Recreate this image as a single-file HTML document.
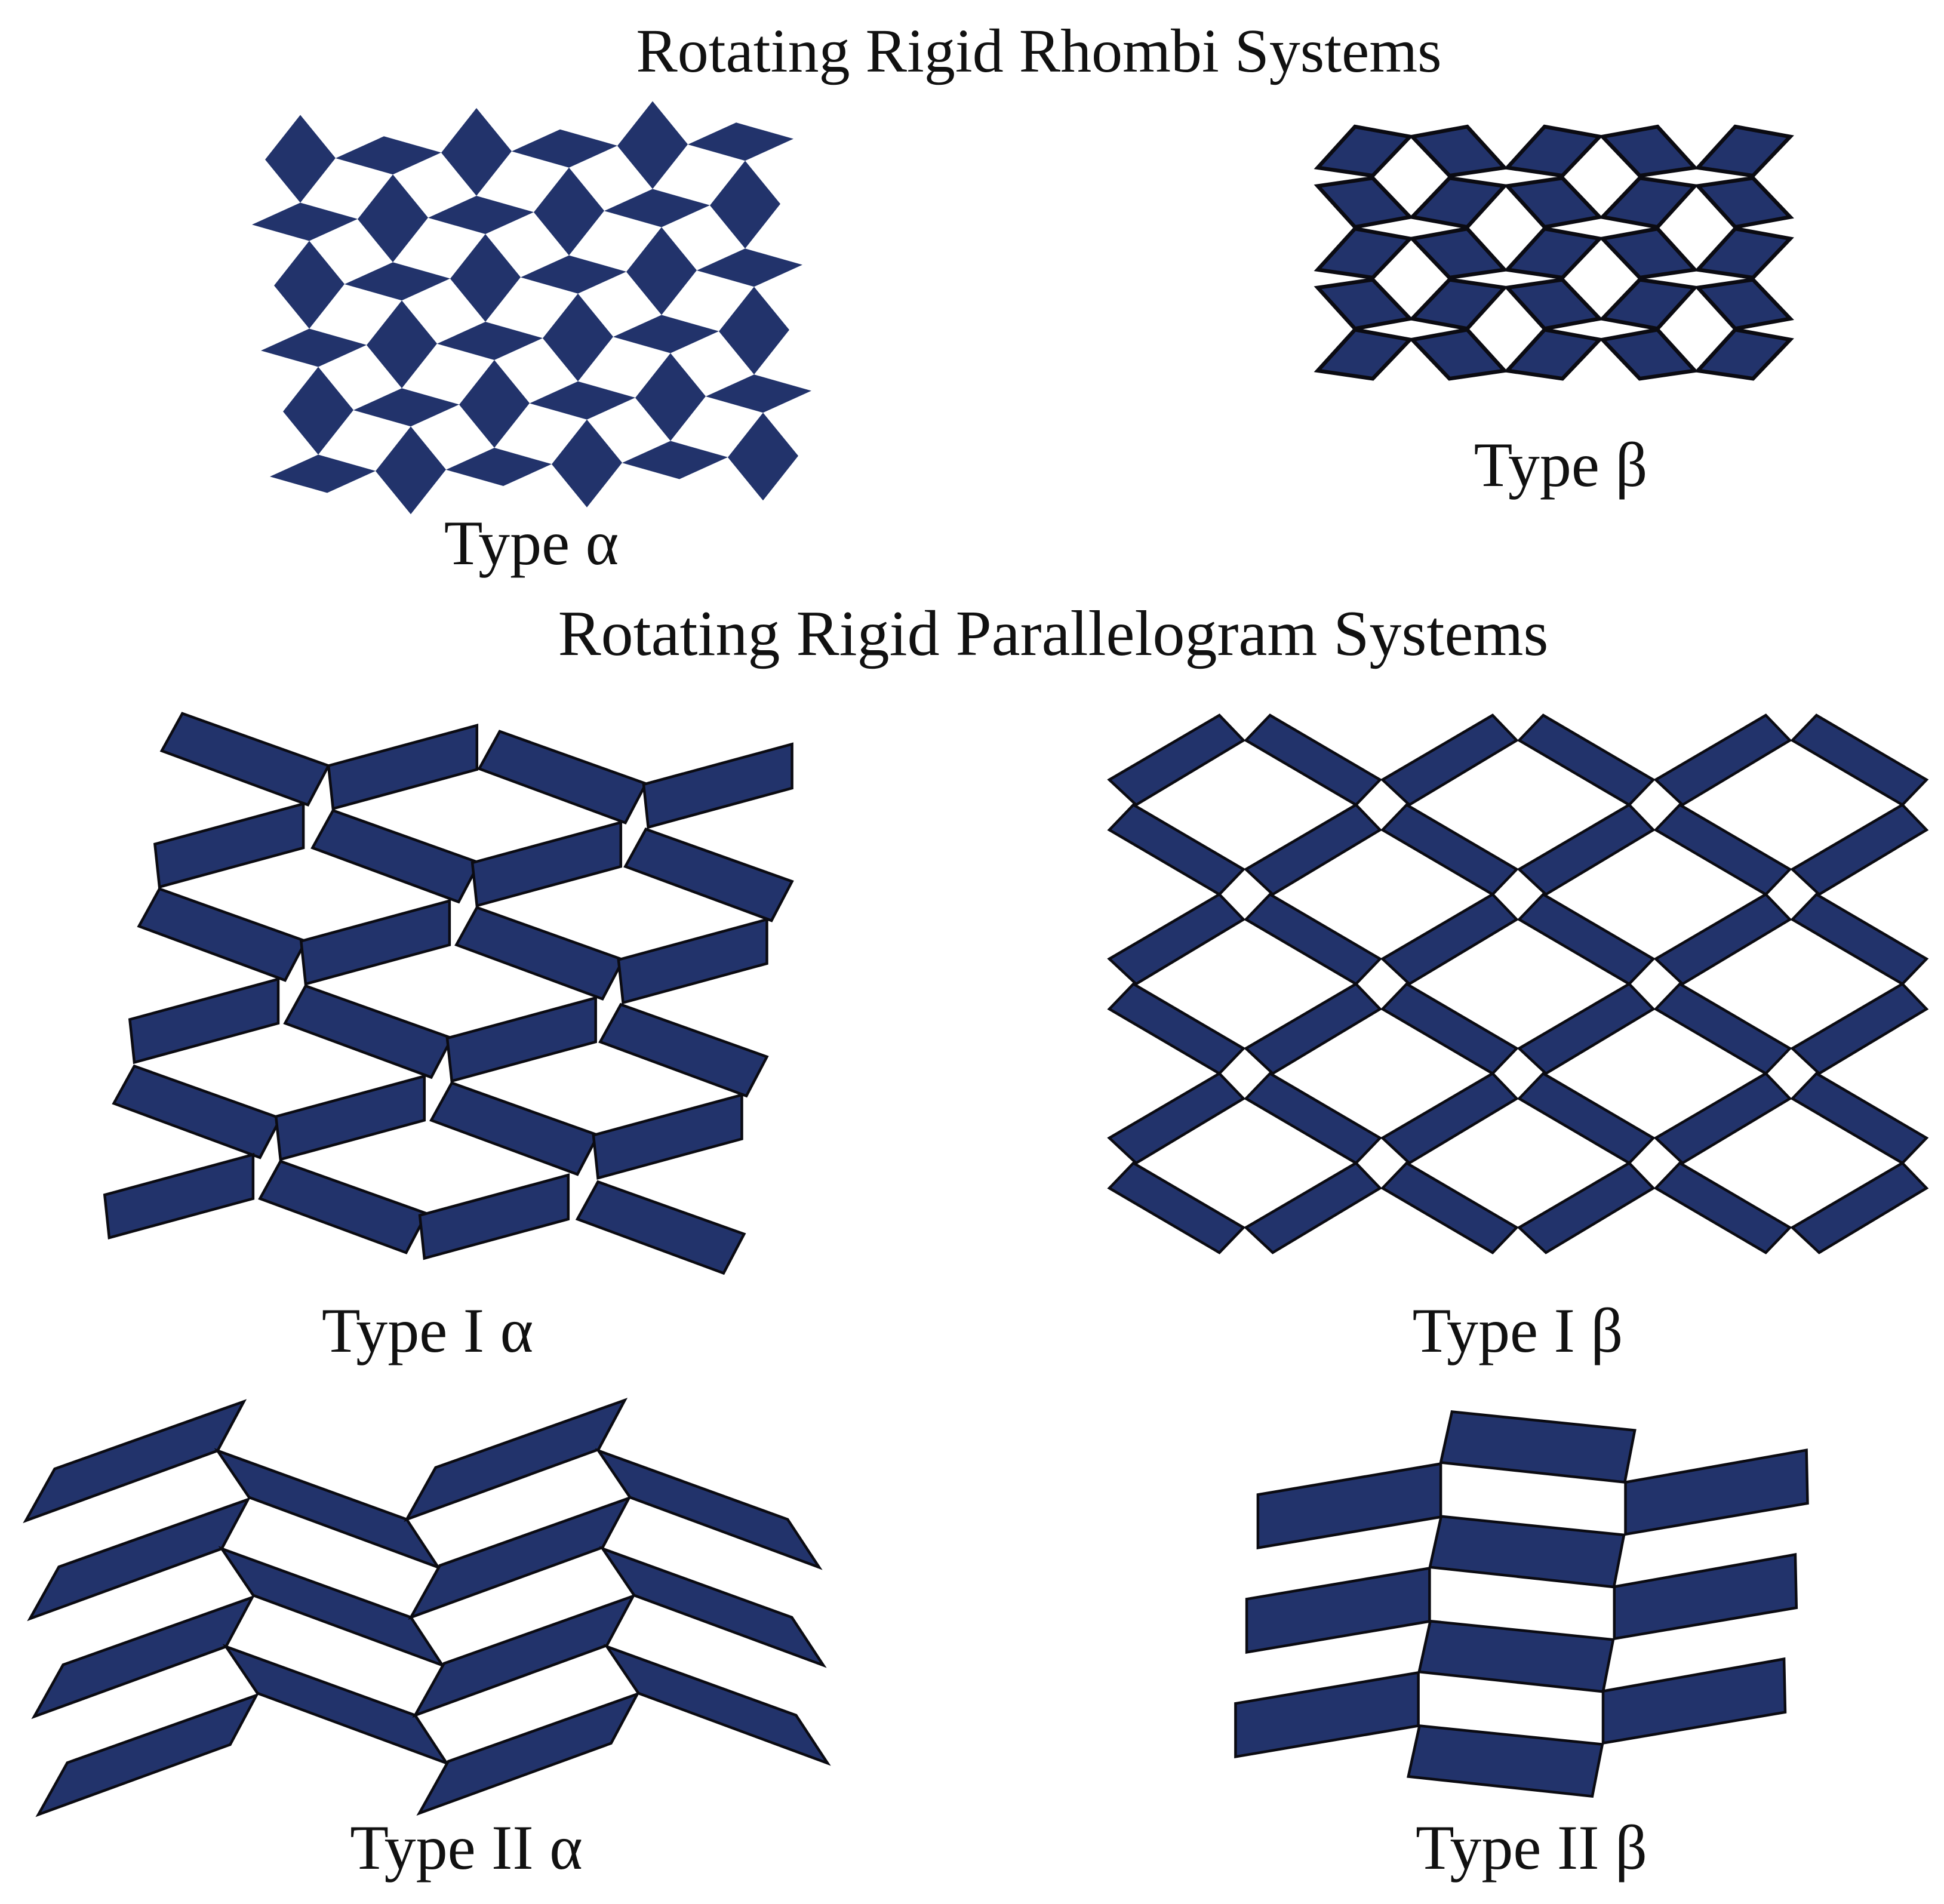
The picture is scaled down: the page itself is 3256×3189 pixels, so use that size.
<!DOCTYPE html>
<html><head><meta charset="utf-8"><style>
html,body{margin:0;padding:0;background:#fff;}
#c{width:3256px;height:3189px;position:relative;overflow:hidden;}
svg text{font-family:"Liberation Serif",serif;font-size:106px;fill:#111;text-anchor:middle;}
</style></head><body>
<div id="c"></div>
<script>
var out=[];
function poly(pts,fx,fy,sw){
  out.push('<polygon points="'+pts.map(function(p){return fx(p[0]).toFixed(1)+','+fy(p[1]).toFixed(1);}).join(' ')+'" fill="#22336b"'+(sw?' stroke="#0b0b12" stroke-width="'+sw+'" stroke-linejoin="miter"':'')+'/>');
}
function at(rel,ox,oy){return rel.map(function(p){return [p[0]+ox,p[1]+oy];});}
var id=function(x){return x;};
// Type alpha
(function(){
  var A=[503,266],u=[295,-11.5],v=[155,99.75];
  var V=[[0,-73.5],[59,-1.25],[0,73.5],[-59,1.25]];
  var H=[[-88.5,4.75],[-7.5,-32],[88.5,-4.75],[7.5,32]];
  for(var j=0;j<6;j++){
    var fj=Math.floor(j/2),cj=Math.ceil(j/2),i;
    for(i=-fj;i<=-fj+2;i++){poly(at(V,A[0]+i*u[0]+j*v[0],A[1]+i*u[1]+j*v[1]),id,id,0);}
    for(i=-cj;i<=-cj+2;i++){poly(at(H,A[0]+(i+.5)*u[0]+j*v[0],A[1]+(i+.5)*u[1]+j*v[1]),id,id,0);}
  }
})();
// Type beta
(function(){
  var fx=function(x){return 2180+x*0.542;},fy=function(y){return 187+y*0.335;};
  var P=[[115,0],[285,50],[170,245],[0,205]],Q=[[0,50],[170,0],[285,205],[115,245]];
  var xs=[50,342,636,930,1225],ys=[75,332,585,840,1090];
  for(var r=0;r<5;r++)for(var k=0;k<5;k++){
    var s=(k%2==0)?P:Q;
    if(r%2==1)s=s.map(function(p){return [p[0],245-p[1]];});
    poly(at(s,xs[k],ys[r]),fx,fy,6.5);
  }
})();
// Type I alpha
(function(){
  var fx=function(x){return 160+x*0.765;},fy=function(y){return 1170+y*0.625;};
  var D=[[0,0],[320,140],[275,245],[-45,100]],U=[[0,0],[325,-108],[325,10],[10,115]];
  var L=[['D',190,40],['U',510,180],['D',885,88],['U',1200,230],
  ['U',130,390],['D',520,300],['U',825,440],['D',1205,350],
  ['D',140,510],['U',450,650],['D',835,560],['U',1145,700],
  ['U',75,860],['D',460,770],['U',770,910],['D',1150,820],
  ['D',85,985],['U',395,1120],['D',780,1030],['U',1090,1170],
  ['U',20,1330],['D',405,1240],['U',710,1385],['D',1100,1295]];
  L.forEach(function(b){poly(at(b[0]=='D'?D:U,b[1],b[2]),fx,fy,4.5);});
})();
// Type I beta
(function(){
  var fx=function(x){return 1840+x*0.899;},fy=function(y){return 1180+y*0.6;};
  var S=[[0,180],[205,0],[250,70],[50,250]],B=[[0,70],[45,0],[250,180],[205,250]];
  for(var r=0;r<6;r++)for(var k=0;k<6;k++){
    poly(at((k+r)%2==0?S:B,20+254.5*k,30+250*r),fx,fy,4.5);
  }
})();
// Type II alpha
(function(){
  var fx=function(x){return 30+x*0.88;},fy=function(y){return 2330+y*0.434;};
  var U2=[[0,0],[55,-200],[415,-460],[365,-270]],D2=[[0,0],[360,265],[420,450],[60,180]];
  var k;
  for(k=0;k<4;k++)poly(at(U2,15+8*k,500+378*k),fx,fy,4.5);
  for(k=0;k<3;k++)poly(at(D2,380+8*k,230+378*k),fx,fy,4.5);
  for(k=0;k<4;k++)poly(at(U2,740+8*k,495+378*k),fx,fy,4.5);
  for(k=0;k<3;k++)poly(at(D2,1105+8*k,230+378*k),fx,fy,4.5);
})();
// Type II beta
(function(){
  var fx=function(x){return 2060+x*0.625;},fy=function(y){return 2350+y*0.4145;};
  var C=[[0,0],[490,75],[463,285],[-30,205]];
  var Lb=[[0,0],[490,-125],[490,90],[0,215]];
  var Rb=[[0,0],[485,-130],[488,85],[0,210]];
  var k;
  for(k=0;k<4;k++)poly(at(C,595-29*k,35+423*k),fx,fy,4.5);
  for(k=0;k<3;k++)poly(at(Lb,75-30*k,370+422*k),fx,fy,4.5);
  for(k=0;k<3;k++)poly(at(Rb,1060-30*k,320+422*k),fx,fy,4.5);
})();
var txt='<text x="1740" y="120" style="font-size:104px">Rotating Rigid Rhombi Systems</text>'+
'<text x="890" y="945">Type α</text>'+
'<text x="2614" y="814">Type β</text>'+
'<text x="1764" y="1097" style="font-size:108px">Rotating Rigid Parallelogram Systems</text>'+
'<text x="716" y="2264">Type I α</text>'+
'<text x="2542" y="2264">Type I β</text>'+
'<text x="781" y="3130">Type II α</text>'+
'<text x="2565" y="3130">Type II β</text>';
document.getElementById('c').innerHTML='<svg width="3256" height="3189" viewBox="0 0 3256 3189">'+out.join('')+txt+'</svg>';
</script>
</body></html>
